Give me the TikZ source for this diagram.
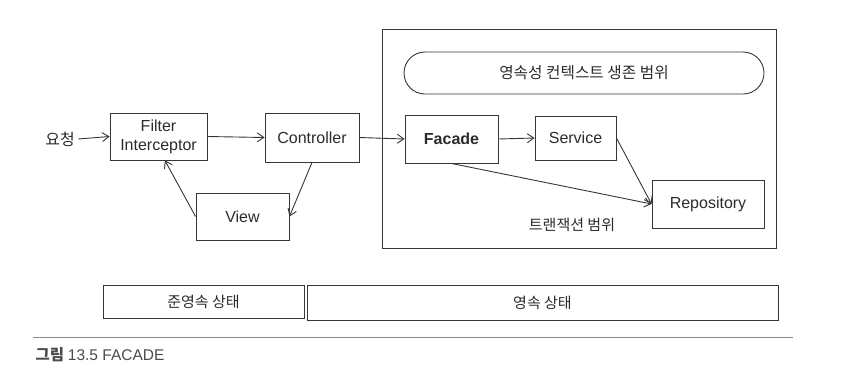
\documentclass[tikz,border=0pt]{standalone}
\usepackage{fontspec}
\setmainfont{Liberation Sans}
\newfontfamily\kr{Noto Sans CJK KR}
\usepackage{tikz}
\usetikzlibrary{arrows.meta,shapes.misc}
\definecolor{FigInk}{HTML}{2B2B2B}
\definecolor{FigLine}{HTML}{363636}
\definecolor{FigRule}{HTML}{8A8A8A}

\begin{document}
\begin{tikzpicture}[x=1pt,y=-1pt,>={Straight Barb[length=6.5pt,width=9pt]},
    box/.style={draw=FigLine,line width=0.9pt,text=FigInk,inner sep=0pt,align=center},
    link/.style={->,FigLine,line width=0.9pt},
    hangul/.style={font=\kr\fontsize{15}{18}\selectfont},
    every node/.style={font=\fontsize{16}{19}\selectfont,text=FigInk}]
  \useasboundingbox (0,0) rectangle (850,389);
  % transaction scope
  \draw[FigLine,line width=0.9pt] (382,29) rectangle (776,248);
  \node[box,hangul,font=\kr\fontsize{15.7}{18}\selectfont,rounded rectangle,minimum width=360pt,minimum height=42pt] (ctx) at (584,73) {영속성 컨텍스트 생존 범위};
  \node[hangul] (tx) at (572,225) {트랜잭션 범위};
  \node[hangul,font=\kr\fontsize{16}{18}\selectfont] (req) at (60,139) {요청};
  \node[box,minimum width=97pt,minimum height=47pt] (filt) at (158.5,136.5) {Filter\\Interceptor};
  \node[box,minimum width=94pt,minimum height=49pt] (ctrl) at (312,137.5) {Controller};
  \node[box,minimum width=93pt,minimum height=47pt] (view) at (242.5,216.5) {View};
  \node[box,minimum width=93pt,minimum height=48pt,font=\fontsize{16}{19}\selectfont\bfseries] (fac) at (451.5,139) {Facade};
  \node[box,minimum width=81pt,minimum height=44pt] (svc) at (575.5,138) {Service};
  \node[box,minimum width=112pt,minimum height=48pt] (repo) at (708,204) {Repository};
  \foreach \a/\b in {req.east/filt.west,filt.east/ctrl.west,ctrl.south/view.east,view.west/filt.-75,
                     ctrl.east/fac.west,fac.east/svc.west,svc.east/repo.west,fac.south/repo.west}{
    \draw[link] (\a) -- (\b);
  }
  % states
  \node[box,hangul,minimum width=201pt,minimum height=33pt] (detached) at (203.5,301.5) {준영속 상태};
  \node[box,hangul,minimum width=471pt,minimum height=35pt] (managed) at (542.5,302.5) {영속 상태};
  \draw[FigRule,line width=1pt] (33,337) -- (793,337);
  \node[anchor=west,font=\fontsize{15.5}{17}\selectfont,text=FigInk!85] (cap) at (32,355) {{\kr\bfseries 그림}\hspace{0.25em}13.5 FACADE};
\end{tikzpicture}
\end{document}
